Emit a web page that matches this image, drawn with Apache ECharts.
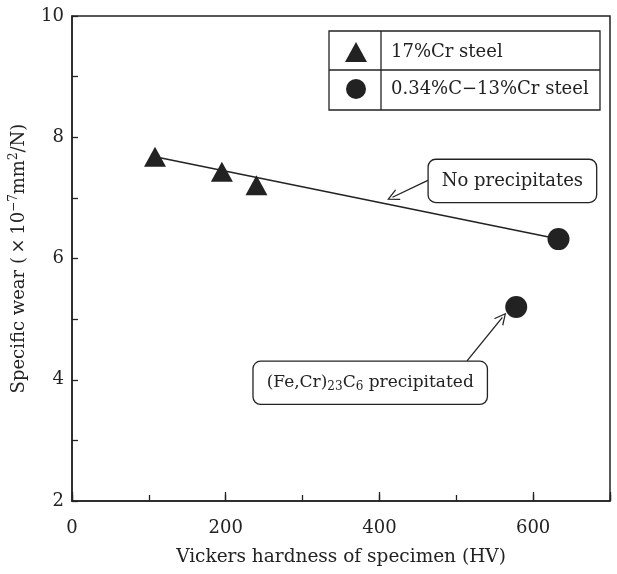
<!DOCTYPE html>
<html>
<head>
<meta charset="utf-8">
<script src="https://cdn.jsdelivr.net/npm/echarts@6/dist/echarts.min.js"></script>
<style>
  html,body{margin:0;padding:0;background:#fff;}
  #main{width:617px;height:574px;}
</style>
</head>
<body>
<div id="main"></div>
<script>
// 17%Cr steel (triangles)
var crX = [108, 195, 240];
var crY = [7.68, 7.43, 7.21];
// 0.34%C-13%Cr steel (circles)
var ccrX = [633, 578];
var ccrY = [6.32, 5.2];
// "no precipitates" trend line ends
var fitX = [108, 633];
var fitY = [7.68, 6.32];
// annotation boxes (centre in data units) and arrows
var noteText = ['No precipitates', '{n|(Fe,Cr)}{s|23}{n|C}{s|6}{n| precipitated}'];
var noteAt = [[573, 7.28], [388, 3.95]];
var arrowFrom = [[463, 7.29], [514, 4.31]];
var arrowTo = [[417, 7.01], [560, 5.03]];
var seriesNames = ['17%Cr steel', '0.34%C\u221213%Cr steel'];

var ink = '#222';
var serif = 'DejaVu Serif';

function zip(xs, ys) {
    return xs.map(function (x, i) { return [x, ys[i]]; });
}

var arrowHead = 'path://M5,0 L10,11 L8.8,11 L5,2.4 L1.2,11 L0,11 Z';

var myChart = echarts.init(document.getElementById('main'));
var option = {
    animation: false,
    backgroundColor: '#fff',
    textStyle: {fontFamily: serif, color: ink},
    grid: {
        left: 71, top: 16, right: 7, bottom: 73,
        show: true, borderColor: ink, borderWidth: 1.5
    },
    legend: {
        data: seriesNames,
        orient: 'vertical',
        left: 345, top: 42,
        padding: 0,
        itemWidth: 22, itemHeight: 20, itemGap: 17,
        selectedMode: false,
        textStyle: {fontFamily: serif, fontSize: 18, color: ink, padding: [0, 0, 0, 19], lineHeight: 20}
    },
    graphic: [
        {type: 'rect', shape: {x: 329, y: 31, width: 271, height: 79}, style: {fill: 'none', stroke: ink, lineWidth: 1.3}, z: 1},
        {type: 'line', shape: {x1: 381, y1: 31, x2: 381, y2: 110}, style: {stroke: ink, lineWidth: 1.3}, z: 1},
        {type: 'line', shape: {x1: 329, y1: 70, x2: 600, y2: 70}, style: {stroke: ink, lineWidth: 1.3}, z: 1}
    ],
    xAxis: [{
        type: 'value', min: 0, max: 700, interval: 100,
        name: 'Vickers hardness of specimen (HV)',
        nameLocation: 'middle', nameGap: 47,
        nameTextStyle: {fontFamily: serif, fontSize: 18.5, color: ink},
        axisLine: {lineStyle: {color: ink, width: 1.5}},
        axisTick: {inside: true, length: 6, lineStyle: {color: ink, width: 1.3}},
        axisLabel: {
            fontFamily: serif, fontSize: 18, color: ink, margin: 18,
            formatter: function (v) { return v % 200 === 0 ? String(v) : ''; }
        },
        splitLine: {show: false}
    }, {
        type: 'value', min: 0, max: 700, interval: 200, position: 'bottom',
        axisLine: {show: false},
        axisTick: {inside: true, length: 9, lineStyle: {color: ink, width: 1.3}},
        axisLabel: {show: false},
        splitLine: {show: false}
    }],
    yAxis: {
        type: 'value', min: 2, max: 10, interval: 1,
        name: '{n|Specific wear (\u2009\u00d7\u200910}{p|\u22127}{n|mm}{p|2}{n|/N)}',
        nameLocation: 'middle', nameGap: 42,
        nameTextStyle: {
            rich: {
                n: {fontFamily: serif, fontSize: 18, color: ink, lineHeight: 22},
                p: {fontFamily: serif, fontSize: 12, color: ink, lineHeight: 10, verticalAlign: 'top'}
            }
        },
        axisLine: {lineStyle: {color: ink, width: 1.5}},
        axisTick: {inside: true, length: 6, lineStyle: {color: ink, width: 1.3}},
        axisLabel: {
            fontFamily: serif, fontSize: 18, color: ink, margin: 8,
            formatter: function (v) { return v % 2 === 0 ? String(v) : ''; }
        },
        splitLine: {show: false}
    },
    series: [{
        name: 'fit',
        type: 'line',
        data: zip(fitX, fitY),
        symbol: 'none',
        lineStyle: {color: ink, width: 1.5},
        z: 2,
        markLine: {
            silent: true,
            symbol: ['none', arrowHead],
            symbolSize: 12,
            label: {show: false},
            lineStyle: {color: ink, width: 1.3, type: 'solid'},
            data: arrowFrom.map(function (a, i) {
                return [{coord: a}, {coord: arrowTo[i]}];
            })
        },
        markPoint: {
            silent: true,
            symbol: 'rect',
            symbolSize: 1,
            itemStyle: {color: 'rgba(0,0,0,0)'},
            label: {
                show: true,
                position: 'inside',
                formatter: function (p) { return p.name; },
                fontFamily: serif, fontSize: 18, color: ink, lineHeight: 20,
                backgroundColor: '#fff', borderColor: ink, borderWidth: 1.3, borderRadius: 7,
                padding: [11, 13],
                rich: {
                    n: {fontFamily: serif, fontSize: 17, color: ink, lineHeight: 20},
                    s: {fontFamily: serif, fontSize: 12, color: ink, lineHeight: 8, verticalAlign: 'bottom'}
                }
            },
            data: noteAt.map(function (c, i) {
                return {name: noteText[i], coord: c};
            })
        }
    }, {
        name: seriesNames[0],
        type: 'scatter',
        data: zip(crX, crY),
        symbol: 'triangle',
        symbolSize: [22, 20],
        itemStyle: {color: ink, opacity: 1},
        z: 3
    }, {
        name: seriesNames[1],
        type: 'scatter',
        data: zip(ccrX, ccrY),
        symbol: 'circle',
        symbolSize: 22,
        itemStyle: {color: ink, opacity: 1},
        z: 3
    }]
};
myChart.setOption(option);
</script>
</body>
</html>
